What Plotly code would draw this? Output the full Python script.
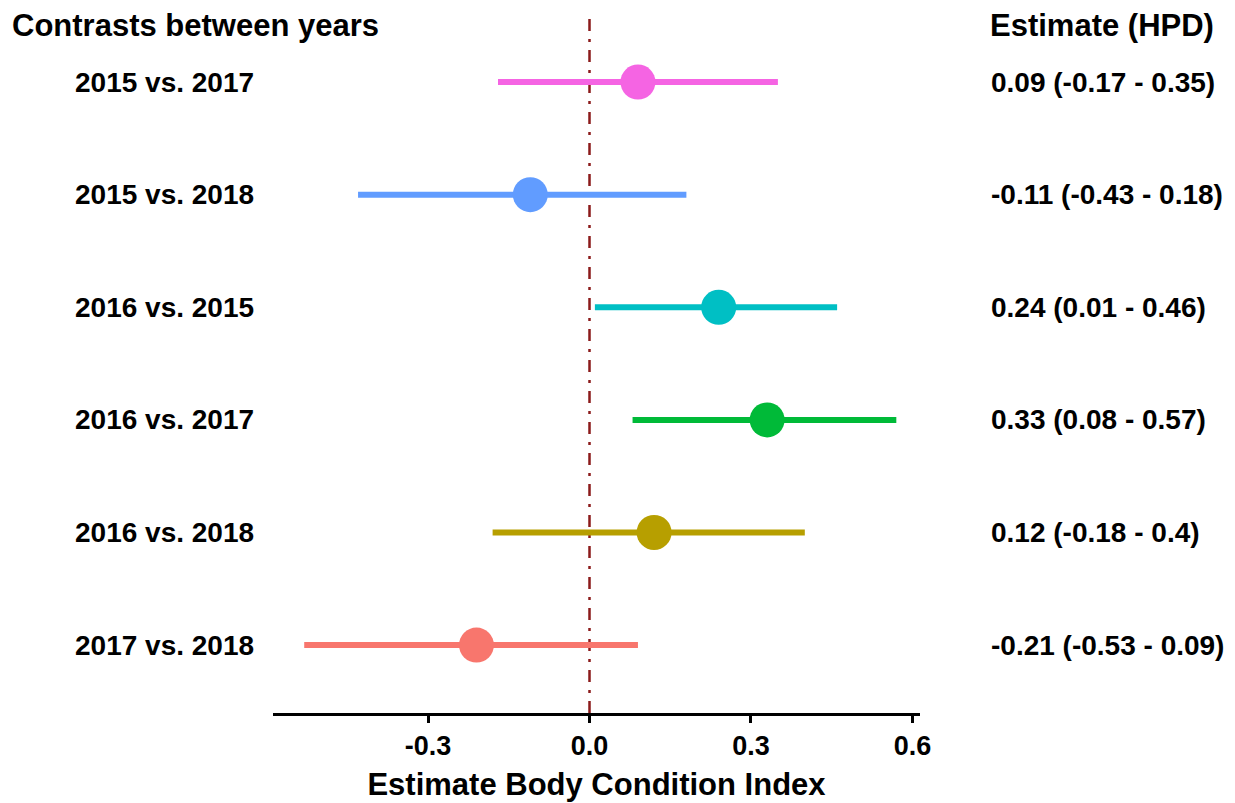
import plotly.graph_objects as go

# Posterior contrasts of body condition between sampling years
contrasts = ["2015 vs. 2017", "2015 vs. 2018", "2016 vs. 2015",
             "2016 vs. 2017", "2016 vs. 2018", "2017 vs. 2018"]
estimate = [0.09, -0.11, 0.24, 0.33, 0.12, -0.21]
hpd_low = [-0.17, -0.43, 0.01, 0.08, -0.18, -0.53]
hpd_high = [0.35, 0.18, 0.46, 0.57, 0.4, 0.09]
colors = ["#F564E3", "#619CFF", "#00BFC4", "#00BA38", "#B79F00", "#F8766D"]
x_ticks = [-0.3, 0.0, 0.3, 0.6]
x_tick_text = ["-0.3", "0.0", "0.3", "0.6"]

FONT = "Liberation Sans, Arial, sans-serif"
n = len(contrasts)
# first contrast at the top
ypos = [n - i for i in range(n)]

fig = go.Figure()

# HPD interval segments
for i in range(n):
    fig.add_trace(go.Scatter(
        x=[hpd_low[i], hpd_high[i]], y=[ypos[i], ypos[i]],
        mode="lines", line=dict(color=colors[i], width=6),
        showlegend=False, hoverinfo="skip",
    ))

# point estimates
fig.add_trace(go.Scatter(
    x=estimate, y=ypos, mode="markers",
    marker=dict(color=colors, size=35, line=dict(width=0)),
    showlegend=False,
))

# reference line at zero
fig.add_shape(type="line", xref="x", yref="paper", x0=0, x1=0, y0=0, y1=1,
              line=dict(color="#8B1A1A", width=2.5, dash="12px,8px,3px,8px"),
              layer="below")

annotations = []
for i in range(n):
    annotations.append(dict(
        xref="paper", yref="y", x=-17 / 647, y=ypos[i],
        text=contrasts[i], showarrow=False, xanchor="right", yanchor="middle",
        font=dict(family=FONT, size=28, color="black", weight="bold"),
    ))
    annotations.append(dict(
        xref="paper", yref="y", x=(989 - 273) / 647, y=ypos[i],
        text=f"{estimate[i]:g} ({hpd_low[i]:g} - {hpd_high[i]:g})",
        showarrow=False, xanchor="left", yanchor="middle",
        font=dict(family=FONT, size=28, color="black", weight="bold"),
    ))

annotations.append(dict(
    xref="paper", yref="paper", x=(10 - 273) / 647, y=1 - 14 / 701,
    text="Contrasts between years", showarrow=False,
    xanchor="left", yanchor="middle",
    font=dict(family=FONT, size=31, color="black", weight="bold"),
))
annotations.append(dict(
    xref="paper", yref="paper", x=(988 - 273) / 647, y=1 - 14 / 701,
    text="Estimate (HPD)", showarrow=False,
    xanchor="left", yanchor="middle",
    font=dict(family=FONT, size=31, color="black", weight="bold"),
))

fig.update_layout(
    width=1235, height=803,
    margin=dict(l=273, r=315, t=12, b=90),
    paper_bgcolor="white", plot_bgcolor="white",
    annotations=annotations,
    xaxis=dict(
        range=[-0.588, 0.614], tickvals=x_ticks, ticktext=x_tick_text,
        showgrid=False, zeroline=False, automargin=False,
        showline=True, linecolor="black", linewidth=2.5,
        ticks="outside", ticklen=7, tickwidth=2.5, tickcolor="black",
        tickfont=dict(family=FONT, size=27, color="black", weight="bold"),
        title=dict(text="Estimate Body Condition Index", standoff=14,
                   font=dict(family=FONT, size=31, color="black", weight="bold")),
    ),
    yaxis=dict(
        range=[0.397, 6.622], showgrid=False, zeroline=False,
        showline=False, showticklabels=False, ticks="",
    ),
)

fig.write_html("out.html")
